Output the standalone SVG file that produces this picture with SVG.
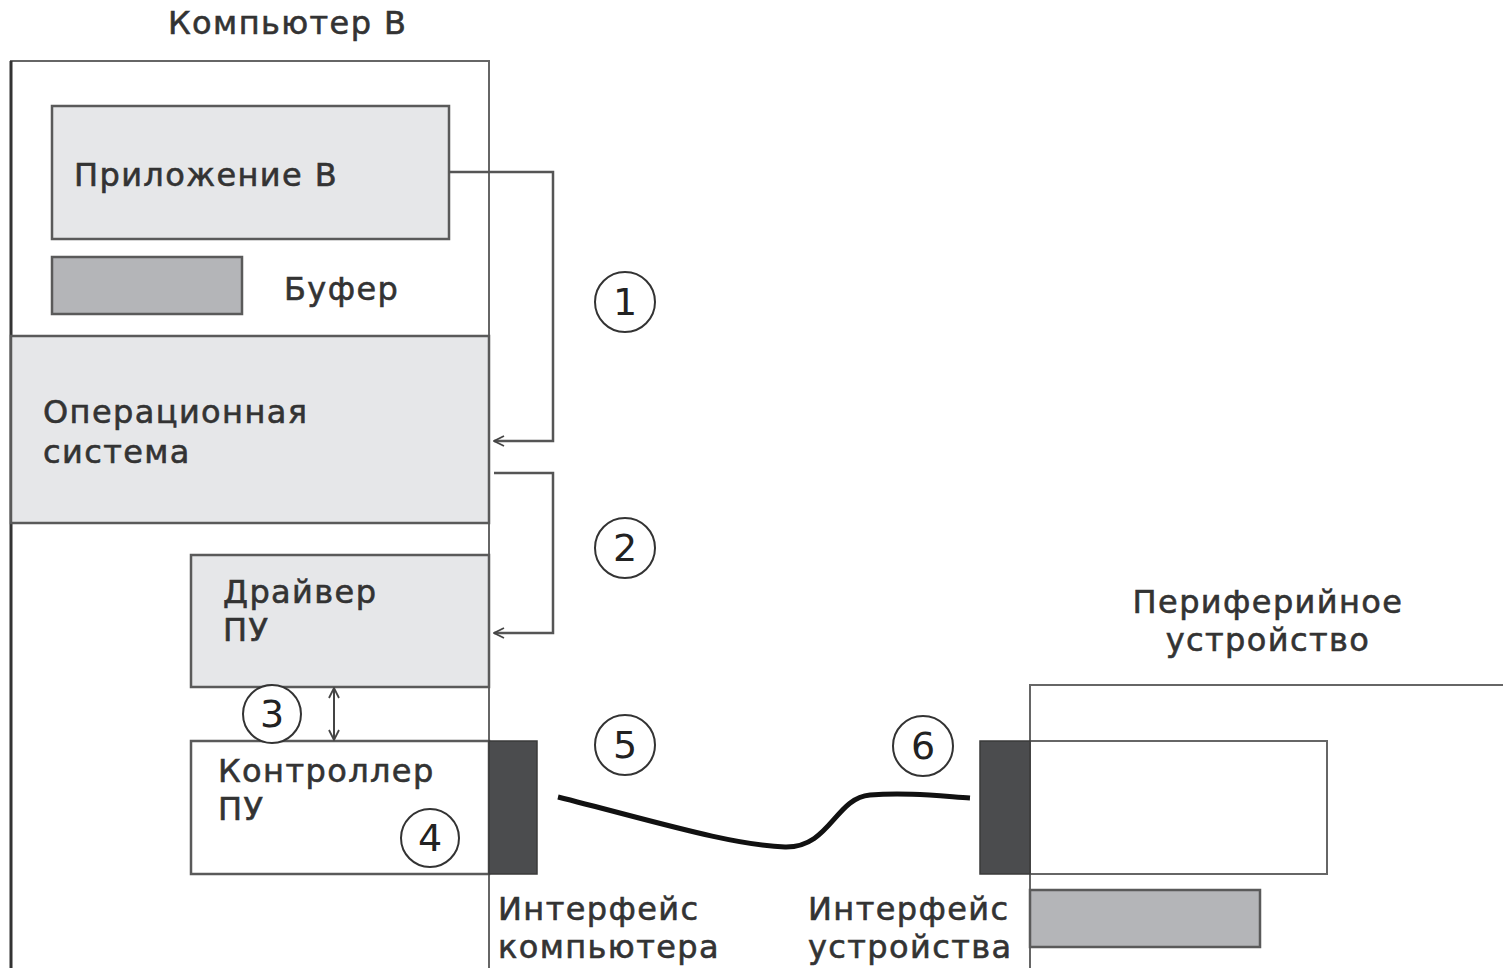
<svg xmlns="http://www.w3.org/2000/svg" width="1503" height="968" viewBox="0 0 1503 968">
<style>
text{font-family:"DejaVu Sans","Liberation Sans",sans-serif;font-size:32px;letter-spacing:1.4px;fill:#333;stroke:#333;stroke-width:0.6}
.box{stroke:#5a5a5a;stroke-width:2.5}
.light{fill:#e6e7e9}
.buf{fill:#b4b5b8}
.dark{fill:#4b4c4e;stroke:#3a3a3a;stroke-width:1.5}
.num{fill:#fff;stroke:#333;stroke-width:2}
.num-t{font-size:38px;letter-spacing:0;text-anchor:middle;fill:#222;stroke:none}
.conn{fill:none;stroke:#555;stroke-width:2.5}
</style>
<defs>
<marker id="ah" viewBox="0 0 12 12" refX="11" refY="6" markerWidth="12" markerHeight="12" markerUnits="userSpaceOnUse" orient="auto-start-reverse">
<path d="M1,1 L11,6 L1,11" fill="none" stroke="#444" stroke-width="1.8"/>
</marker>
</defs>
<rect width="1503" height="968" fill="#fff"/>

<g id="computer">
<text x="168" y="34">Компьютер В</text>
<path d="M11,968 V61 H489 V968" fill="none" stroke="#666" stroke-width="2"/>
<line x1="11" y1="61" x2="11" y2="968" stroke="#333" stroke-width="3"/>
</g>

<g id="app">
<rect class="box light" x="52" y="106" width="397" height="133"/>
<text x="74" y="186">Приложение В</text>
</g>

<g id="buffer">
<rect class="box buf" x="52" y="257" width="190" height="57"/>
<text x="284" y="300">Буфер</text>
</g>

<g id="os">
<rect class="box light" x="11" y="336" width="478" height="187"/>
<text x="43" y="423">Операционная</text>
<text x="43" y="463">система</text>
</g>

<g id="driver">
<rect class="box light" x="191" y="555" width="298" height="132"/>
<text x="223" y="603">Драйвер</text>
<text x="223" y="641">ПУ</text>
</g>

<g id="controller">
<rect class="box" fill="#fff" x="191" y="741" width="298" height="133"/>
<text x="218" y="782">Контроллер</text>
<text x="218" y="820">ПУ</text>
</g>

<g id="comp-interface">
<rect class="dark" x="489" y="741" width="48" height="133"/>
<text x="498" y="920">Интерфейс</text>
<text x="498" y="958">компьютера</text>
</g>

<g id="peripheral">
<text x="1268" y="613" text-anchor="middle">Периферийное</text>
<text x="1268" y="651" text-anchor="middle">устройство</text>
<path d="M1030,968 V685 H1503" fill="none" stroke="#666" stroke-width="2"/>
<rect x="1030" y="741" width="297" height="133" fill="#fff" stroke="#666" stroke-width="2"/>
<rect class="box buf" x="1030" y="890" width="230" height="57" stroke-width="2"/>
</g>

<g id="dev-interface">
<rect class="dark" x="980" y="741" width="50" height="133"/>
<text x="808" y="920">Интерфейс</text>
<text x="808" y="958">устройства</text>
</g>

<g id="connectors">
<path class="conn" d="M449,172 H553 V441 H494" marker-end="url(#ah)"/>
<path class="conn" d="M494,473 H553 V633 H494" marker-end="url(#ah)"/>
<line x1="334" y1="688" x2="334" y2="740" stroke="#444" stroke-width="2" marker-start="url(#ah)" marker-end="url(#ah)"/>
<path d="M558,797 C650,820 730,845 785,847 C830,848 835,798 870,795 C905,792 940,796 970,798" fill="none" stroke="#111" stroke-width="5"/>
</g>

<g id="labels">
<circle class="num" cx="625" cy="302" r="30"/><text class="num-t" x="625" y="315">1</text>
<circle class="num" cx="625" cy="548" r="30"/><text class="num-t" x="625" y="561">2</text>
<circle class="num" cx="272" cy="714" r="29"/><text class="num-t" x="272" y="727">3</text>
<circle class="num" cx="430" cy="838" r="29"/><text class="num-t" x="430" y="851">4</text>
<circle class="num" cx="625" cy="745" r="30"/><text class="num-t" x="625" y="758">5</text>
<circle class="num" cx="923" cy="746" r="30"/><text class="num-t" x="923" y="759">6</text>
</g>
</svg>
